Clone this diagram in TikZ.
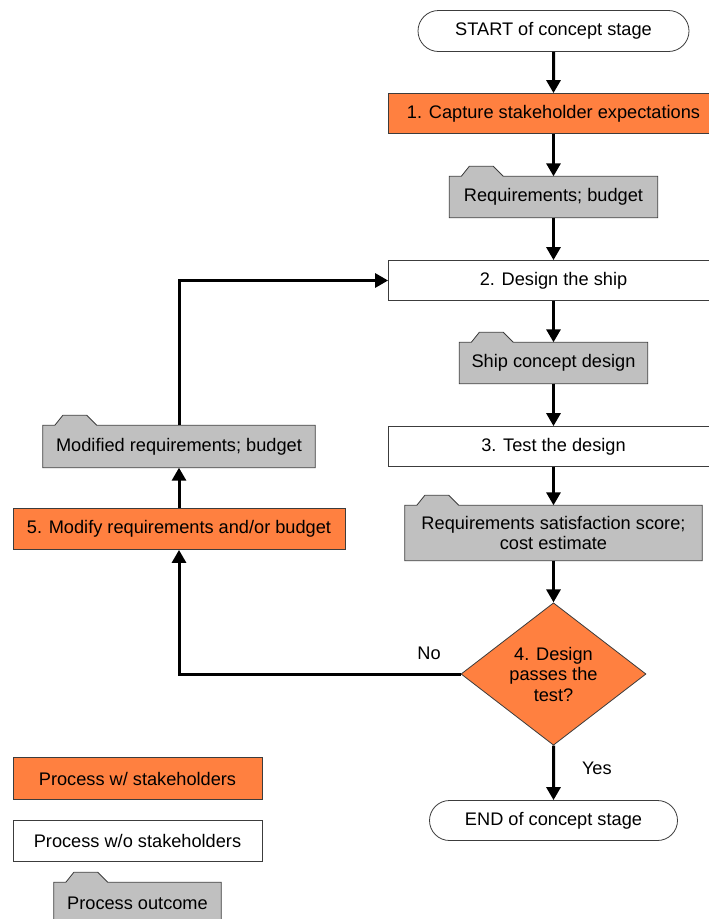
\documentclass[tikz,border=0pt]{standalone}
\usepackage{fontspec}
\setmainfont{Liberation Sans}
\usetikzlibrary{shapes.geometric,shapes.misc,arrows.meta,backgrounds}
\definecolor{orng}{RGB}{255,128,64}
\definecolor{gry}{RGB}{192,192,192}
\definecolor{edge}{RGB}{60,60,60}
\newcommand\tabbox[1]{\draw[draw=edge, line width=0.8pt, fill=gry] (#1.south west) -- (#1.north west) -- ++(12,0) -- ++(8,-10) -- ++(24,0) -- ++(10,10) -- (#1.north east) -- (#1.south east) -- cycle;}
\begin{document}
\begin{tikzpicture}[x=1pt,y=-1pt, font=\fontsize{18.2}{20.5}\selectfont,
 base/.style={draw=edge, line width=0.8pt, inner sep=0pt, align=center},
 proc/.style={base, rectangle, minimum height=40pt},
 stake/.style={proc, fill=orng},
 nostake/.style={proc, fill=white},
 term/.style={base, rounded rectangle, fill=white},
 outc/.style={inner sep=0pt, align=center},
 decide/.style={base, diamond, fill=orng, minimum width=185pt, minimum height=142pt},
 conn/.style={line width=3pt, -{Triangle[width=14pt,length=13pt]}},
 lab/.style={inner sep=0pt}]
\clip (0,0) rectangle (709,919);
% main column
\node[term, minimum width=271pt, minimum height=41pt] (start) at (553.5,31) {START of concept stage};
\node[stake, minimum width=330pt] (p1) at (553.5,113.5) {1. Capture stakeholder expectations};
\node[outc, minimum width=208pt, minimum height=41pt] (o1) at (553.5,197) {Requirements; budget};
\node[nostake, minimum width=330pt] (p2) at (553.5,280.5) {2. Design the ship};
\node[outc, minimum width=188pt, minimum height=41pt] (o2) at (553.5,363) {Ship concept design};
\node[nostake, minimum width=330pt] (p3) at (553.5,446.5) {3. Test the design};
\node[outc, minimum width=297pt, minimum height=55pt] (o3) at (553.5,533) {Requirements satisfaction score;\\cost estimate};
\node[decide] (d4) at (553.5,674) {4. Design\\passes the\\test?};
\node[term, minimum width=248pt, minimum height=40pt] (end) at (553.5,820.5) {END of concept stage};
% left loop
\node[stake, minimum width=332pt, minimum height=41pt] (p5) at (179,529) {5. Modify requirements and/or budget};
\node[outc, minimum width=272pt, minimum height=42pt] (o5) at (179,446.5) {Modified requirements; budget};
\node[lab] (no) at (429,653.5) {No};
% legend
\node[stake, minimum width=249pt, minimum height=42pt] (l1) at (137.5,778.5) {Process w/ stakeholders};
\node[nostake, minimum width=249pt, minimum height=41pt] (l2) at (137.5,841) {Process w/o stakeholders};
\node[outc, minimum width=167pt, minimum height=42pt] (l3) at (137.5,903.5) {Process outcome};
\begin{scope}[on background layer]
\tabbox{o1}
\tabbox{o2}
\tabbox{o3}
\tabbox{o5}
\tabbox{l3}
\end{scope}
% connectors
\draw[conn] (start) -- (p1);
\draw[conn] (p1) -- (o1);
\draw[conn] (o1) -- (p2);
\draw[conn] (p2) -- (o2);
\draw[conn] (o2) -- (p3);
\draw[conn] (p3) -- (o3);
\draw[conn] (o3) -- (d4);
\draw[conn] (d4) -- (end) node[pos=0.42, anchor=west, xshift=27pt, inner sep=0pt] {Yes};
\draw[conn] (d4.west) -| (p5.south);
\draw[conn] (p5) -- (o5);
\draw[conn] (o5.north) |- (p2.west);
\end{tikzpicture}
\end{document}
